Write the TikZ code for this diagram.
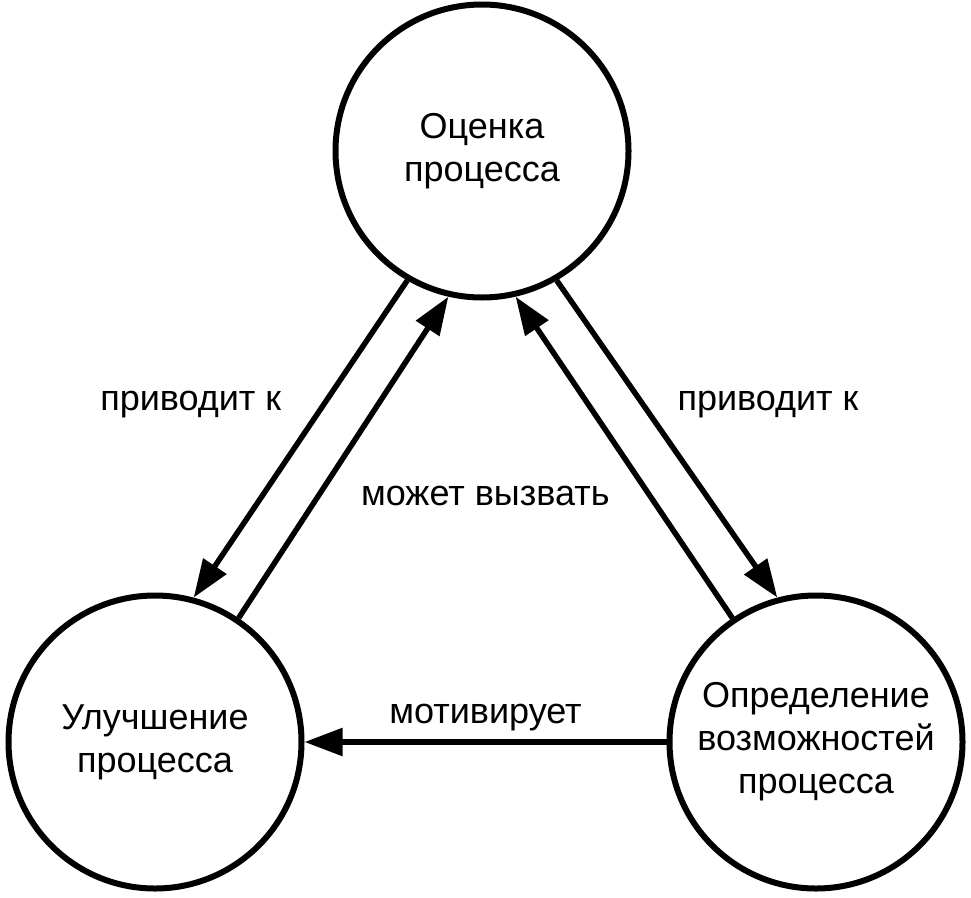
\documentclass[tikz,border=0pt]{standalone}
\usepackage{fontspec}
\setmainfont{Liberation Sans}
\usepackage{tikz}
\usetikzlibrary{arrows.meta,positioning}
\tikzstyle{stage} = [circle, draw, line width=6pt, minimum size=293pt,
    inner sep=0pt, align=center]
\tikzstyle{link} = [-{Triangle[length=38pt,width=27pt]}, line width=5.5pt]
\tikzstyle{tag} = [inner sep=0pt]

\begin{document}
\begin{tikzpicture}[x=1pt, y=-1pt, font=\fontsize{36pt}{43pt}\selectfont]
  \useasboundingbox (0,0) rectangle (971,897);
  % Place nodes
  \node [stage] (assess) at (482,151) {Оценка\\процесса};
  \node [stage] (improve) at (155,742) {Улучшение\\процесса};
  \node [stage] (capab) at (816,742) 
  {Определение\\возможностей\\процесса};
  % Draw edges
  \draw [link] (assess.240) -- node [tag, pos=0.39, left=40pt] {приводит к} 
  (improve.75);
  \draw [link] (improve.56) -- node [tag, pos=0.38, right=40pt] {может вызвать} 
  (assess.257);
  \draw [link] (capab.124) -- (assess.283);
  \draw [link] (assess.300) -- node [tag, pos=0.39, right=32pt] {приводит к} 
  (capab.105);
  \draw [link] (capab.west) -- node [tag, midway, above=8pt] {мотивирует} 
  (improve.east);
\end{tikzpicture}
\end{document}
